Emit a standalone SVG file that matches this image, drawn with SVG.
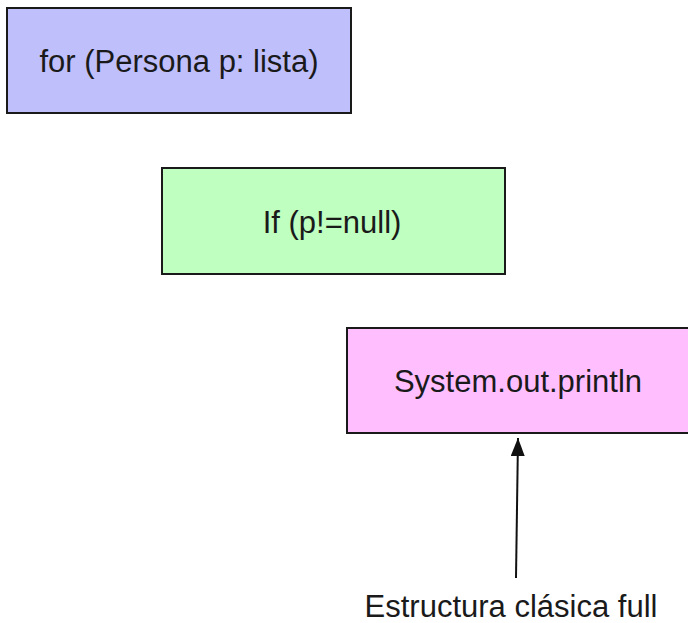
<svg xmlns="http://www.w3.org/2000/svg" width="688" height="623" viewBox="0 0 688 623">
<style>
.box{stroke:#1a1a1a;stroke-width:2}
.t{font-family:"Liberation Sans",Arial,sans-serif;font-size:31px;fill:#1a1a1a;text-anchor:middle}
</style>
<defs>
<marker id="ah" markerWidth="18" markerHeight="14" refX="18" refY="7" orient="auto" markerUnits="userSpaceOnUse" viewBox="0 0 18 14">
<path d="M0,0 L18,7 L0,14 Z" fill="#111"/>
</marker>
</defs>
<rect width="688" height="623" fill="#ffffff"/>
<g id="node-for">
<rect class="box" x="7" y="8" width="344" height="105" fill="#bfbffc"/>
<text class="t" x="179" y="72">for (Persona p: lista)</text>
</g>
<g id="node-if">
<rect class="box" x="162" y="168" width="343" height="106" fill="#bfffbf"/>
<text class="t" x="332" y="233">If (p!=null)</text>
</g>
<g id="node-print">
<rect class="box" x="347" y="328" width="344" height="105" fill="#ffbfff"/>
<text class="t" x="518" y="392">System.out.println</text>
</g>
<g id="connectors">
<line x1="516" y1="578" x2="518" y2="438" stroke="#111" stroke-width="2" marker-end="url(#ah)"/>
</g>
<g id="label">
<text class="t" x="511" y="617">Estructura clásica full</text>
</g>
</svg>
